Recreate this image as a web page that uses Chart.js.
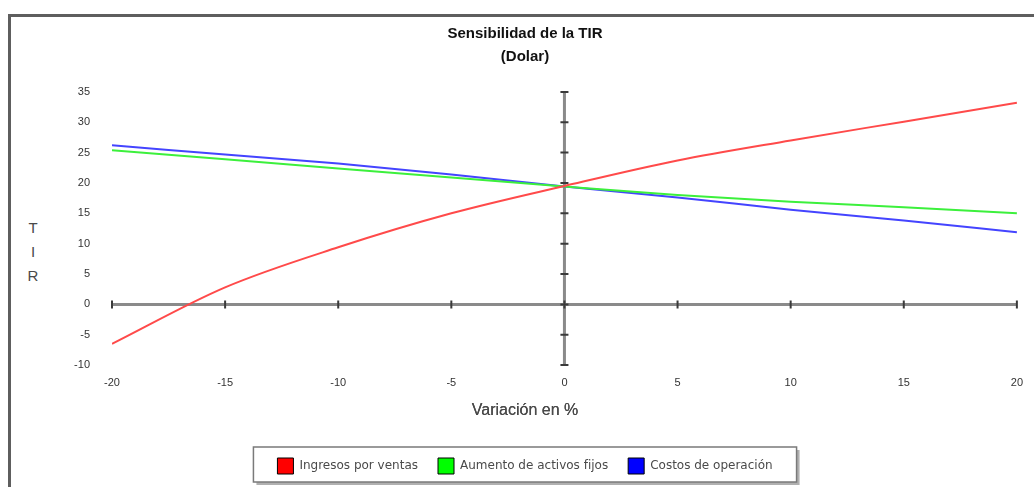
<!DOCTYPE html>
<html lang="es">
<head>
<meta charset="utf-8">
<title>Sensibilidad de la TIR</title>
<script src="https://cdn.jsdelivr.net/npm/chart.js@4.4.1/dist/chart.umd.min.js"></script>
<style>
  body { margin: 0; background: #fff; }
  #wrap { position: relative; width: 1034px; height: 487px; overflow: hidden; }
  #marco {
    position: absolute; left: 8px; top: 14px; width: 1100px; height: 600px;
    border-left: 3px solid #5e5e5e; border-top: 3px solid #5e5e5e;
  }
  #tituloY {
    position: absolute; left: 23px; top: 216px; width: 20px;
    font: 15px "Liberation Sans", Arial, sans-serif; color: #4a4a4a;
    line-height: 24px; text-align: center;
  }
  canvas { position: absolute; left: 0; top: 0; }
</style>
</head>
<body>
<div id="wrap">
  <div id="marco"></div>
  <div id="tituloY">T<br>I<br>R</div>
  <canvas id="grafico" width="1034" height="487"></canvas>
</div>
<script>
// datos
const variacion = [-20, -15, -10, -5, 0, 5, 10, 15, 20];
const ingresos = [-6.5, 2.8, 9.4, 15.0, 19.5, 23.7, 27.0, 30.1, 33.2];
const activos = [25.4, 23.9, 22.4, 20.9, 19.4, 18.0, 16.9, 16.0, 15.0];
const costos = [26.2, 24.7, 23.2, 21.4, 19.4, 17.6, 15.6, 13.8, 11.9];

const nombres = ["Ingresos por ventas", "Aumento de activos fijos", "Costos de operación"];
const colores = ["#ff0000", "#00ff00", "#0000ff"];
const coloresLinea = ["#ff4a4a", "#3cf03c", "#4444ff"];

const fuente = "'Liberation Sans', Arial, sans-serif";

function serie(valores) {
  return variacion.map((x, i) => ({ x: x, y: valores[i] }));
}

// ejes que cruzan en el origen, con sus marcas
const ejesCentro = {
  id: "ejesCentro",
  beforeDatasetsDraw(chart) {
    const { ctx, scales: { x, y } } = chart;
    const x0 = x.getPixelForValue(0);
    const y0 = y.getPixelForValue(0);
    ctx.save();
    ctx.strokeStyle = "#8a8a8a";
    ctx.lineWidth = 3;
    ctx.beginPath();
    ctx.moveTo(x.getPixelForValue(x.min), y0);
    ctx.lineTo(x.getPixelForValue(x.max), y0);
    ctx.moveTo(x0, y.getPixelForValue(y.min));
    ctx.lineTo(x0, y.getPixelForValue(y.max));
    ctx.stroke();
    ctx.strokeStyle = "#3a3a3a";
    ctx.lineWidth = 2;
    ctx.beginPath();
    x.ticks.forEach(t => {
      const px = x.getPixelForValue(t.value);
      ctx.moveTo(px, y0 - 4);
      ctx.lineTo(px, y0 + 4);
    });
    y.ticks.forEach(t => {
      const py = y.getPixelForValue(t.value);
      ctx.moveTo(x0 - 4, py);
      ctx.lineTo(x0 + 4, py);
    });
    ctx.stroke();
    ctx.restore();
  }
};

// recuadro de la leyenda
const marcoLeyenda = {
  id: "marcoLeyenda",
  afterDraw(chart) {
    const leg = chart.legend;
    if (!leg || !leg.legendHitBoxes.length) return;
    const cajas = leg.legendHitBoxes;
    const ultima = cajas[cajas.length - 1];
    const izq = cajas[0].left - 24;
    const der = ultima.left + ultima.width + 24;
    const top = 447, alto = 35;
    const ctx = chart.ctx;
    ctx.save();
    ctx.fillStyle = "#b0b0b0";
    ctx.fillRect(izq + 3, top + 3, der - izq, alto);
    ctx.fillStyle = "#fff";
    ctx.fillRect(izq, top, der - izq, alto);
    ctx.strokeStyle = "#7a7a7a";
    ctx.lineWidth = 1.5;
    ctx.strokeRect(izq, top, der - izq, alto);
    ctx.restore();
    // volver a pintar los elementos sobre el recuadro
    leg.draw();
  }
};

new Chart(document.getElementById("grafico"), {
  type: "line",
  data: {
    datasets: [
      { label: nombres[0], data: serie(ingresos), borderColor: coloresLinea[0], backgroundColor: colores[0] },
      { label: nombres[1], data: serie(activos), borderColor: coloresLinea[1], backgroundColor: colores[1] },
      { label: nombres[2], data: serie(costos), borderColor: coloresLinea[2], backgroundColor: colores[2] }
    ]
  },
  options: {
    responsive: false,
    animation: false,
    layout: { padding: { left: 33, right: 17, top: 0, bottom: 3 } },
    elements: {
      point: { radius: 0 },
      line: { borderWidth: 2, cubicInterpolationMode: "monotone" }
    },
    scales: {
      x: {
        type: "linear",
        min: -20, max: 20,
        grid: { display: false, drawTicks: false },
        border: { display: false },
        ticks: { stepSize: 5, padding: 11, color: "#333", font: { family: fuente, size: 11 } },
        afterFit(scale) { scale.height = 31; }
      },
      y: {
        min: -10, max: 35,
        grid: { display: false, drawTicks: false },
        border: { display: false },
        ticks: { stepSize: 5, padding: 22, color: "#333", font: { family: fuente, size: 11 } },
        afterFit(scale) { scale.width = 79; }
      }
    },
    plugins: {
      title: {
        display: true,
        text: ["Sensibilidad de la TIR", "(Dolar)"],
        color: "#111",
        font: { family: fuente, size: 15, weight: "bold", lineHeight: 1.53 },
        padding: { top: 22.5, bottom: 23.5 }
      },
      legend: {
        position: "bottom",
        title: {
          display: true,
          text: "Variación en %",
          color: "#4a4a4a",
          font: { family: fuente, size: 16, lineHeight: 1.2 },
          padding: { top: 6, bottom: 16.7 }
        },
        labels: {
          boxWidth: 16,
          boxHeight: 16,
          padding: 20,
          color: "#222",
          font: { family: "'DejaVu Sans', sans-serif", size: 12 },
          generateLabels(chart) {
            return chart.data.datasets.map((ds, i) => ({
              text: ds.label,
              fillStyle: colores[i],
              strokeStyle: "#000",
              lineWidth: 1,
              hidden: false,
              datasetIndex: i
            }));
          }
        }
      },
      tooltip: { enabled: false }
    }
  },
  plugins: [ejesCentro, marcoLeyenda]
});
</script>
</body>
</html>
